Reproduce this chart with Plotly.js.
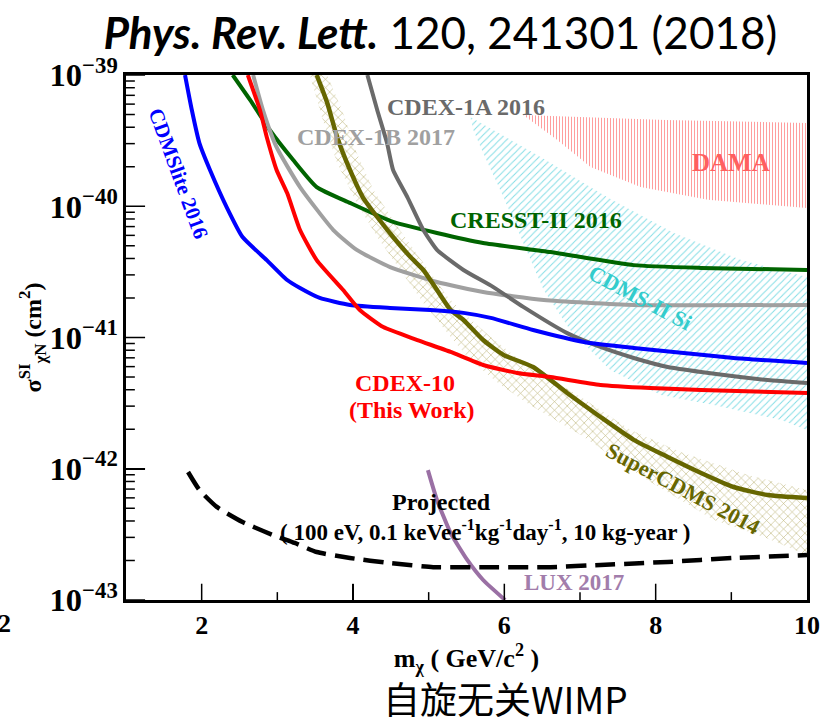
<!DOCTYPE html>
<html>
<head>
<meta charset="utf-8">
<script src="https://cdn.plot.ly/plotly-3.0.1.min.js"></script>
<style>
  html, body { margin: 0; padding: 0; background: #ffffff; }
  #chart { width: 823px; height: 722px; }
</style>
</head>
<body>
<div id="chart"></div>
<script>
// WIMP mass (GeV/c^2) and spin-independent cross section limits (cm^2)

// CDMSlite 2016
const cdmsliteMass = [1.78, 1.87, 1.97, 2.11, 2.33, 2.54, 2.86, 3.13, 3.30, 3.56, 3.96, 4.49, 5.02, 5.46, 5.82, 6.38, 7.05, 7.71, 8.37, 9.03, 10.0];
const cdmsliteSigma = [1.0e-39, 5.41e-40, 3.03e-40, 1.89e-40, 9.86e-41, 5.83e-41, 3.89e-41, 2.74e-41, 2.38e-41, 2.00e-41, 1.77e-41, 1.68e-41, 1.62e-41, 1.54e-41, 1.41e-41, 1.14e-41, 9.25e-42, 8.32e-42, 7.62e-42, 6.98e-42, 6.40e-42];

// CDEX-10 (this work)
const cdex10Mass = [2.61, 2.77, 2.86, 2.99, 3.13, 3.30, 3.52, 3.87, 4.09, 4.40, 4.85, 5.29, 5.72, 6.17, 6.61, 7.27, 7.93, 8.60, 10.0];
const cdex10Sigma = [1.0e-39, 5.41e-40, 3.37e-40, 1.89e-40, 1.26e-40, 6.59e-41, 3.89e-41, 2.30e-41, 1.62e-41, 1.20e-41, 9.57e-42, 7.76e-42, 6.17e-42, 5.37e-42, 5.00e-42, 4.35e-42, 4.12e-42, 3.98e-42, 3.78e-42];

// CRESST-II 2016
const cresstMass = [2.41, 2.64, 2.90, 3.21, 3.52, 3.96, 4.53, 5.11, 5.72, 6.61, 7.71, 8.60, 10.0];
const cresstSigma = [1.0e-39, 6.46e-40, 3.81e-40, 2.25e-40, 1.40e-40, 1.06e-40, 7.59e-41, 6.25e-41, 5.25e-41, 4.48e-41, 3.56e-41, 3.39e-41, 3.27e-41];

// CDEX-1B 2017
const cdex1bMass = [2.68, 2.81, 2.99, 3.30, 3.74, 4.05, 4.49, 5.11, 5.72, 6.52, 7.71, 10.0];
const cdex1bSigma = [1.0e-39, 5.41e-40, 2.82e-40, 1.40e-40, 6.59e-41, 4.65e-41, 3.44e-41, 2.65e-41, 2.22e-41, 1.93e-41, 1.77e-41, 1.77e-41];

// CDEX-1A 2016
const cdex1aMass = [4.19, 4.32, 4.45, 4.53, 4.72, 4.93, 5.11, 5.46, 5.85, 6.25, 6.83, 7.27, 7.71, 8.16, 8.60, 9.48, 10.0];
const cdex1aSigma = [1.0e-39, 5.41e-40, 3.03e-40, 1.89e-40, 1.17e-40, 6.59e-41, 4.65e-41, 3.27e-41, 2.43e-41, 1.71e-41, 1.08e-41, 8.47e-42, 6.98e-42, 5.96e-42, 5.46e-42, 4.74e-42, 4.50e-42];

// SuperCDMS 2014
const supercdmsMass = [3.52, 3.66, 3.79, 3.96, 4.13, 4.32, 4.53, 4.76, 4.93, 5.11, 5.29, 5.46, 5.72, 5.99, 6.38, 6.83, 7.27, 7.71, 8.16, 8.60, 9.03, 9.48, 10.0];
const supercdmsSigma = [1.0e-39, 6.12e-40, 3.37e-40, 1.89e-40, 1.17e-40, 8.28e-41, 5.83e-41, 4.10e-41, 3.27e-41, 2.30e-41, 1.62e-41, 1.36e-41, 9.57e-42, 7.36e-42, 5.96e-42, 3.78e-42, 2.48e-42, 1.66e-42, 1.23e-42, 9.29e-43, 7.26e-43, 6.31e-43, 5.98e-43];

// SuperCDMS 2014 uncertainty band edges
const supercdmsBandLowMass = [3.43, 3.60, 3.79, 4.05, 4.32, 4.62, 4.93, 5.29, 5.55, 5.95, 6.34, 7.01, 7.89, 8.77, 9.43, 10.0];
const supercdmsBandLowSigma = [1.0e-39, 4.54e-40, 2.14e-40, 1.06e-40, 5.83e-41, 3.27e-41, 1.83e-41, 1.01e-41, 6.75e-42, 4.35e-42, 3.06e-42, 1.81e-42, 8.20e-43, 4.07e-43, 3.02e-43, 2.20e-43];
const supercdmsBandHighMass = [3.66, 3.87, 4.05, 4.27, 4.62, 4.93, 5.25, 5.46, 5.82, 6.12, 6.57, 7.01, 7.67, 8.33, 9.22, 10.0];
const supercdmsBandHighSigma = [1.0e-39, 5.13e-40, 2.55e-40, 1.33e-40, 6.59e-41, 3.70e-41, 2.04e-41, 1.54e-41, 1.01e-41, 7.36e-42, 5.00e-42, 3.52e-42, 1.97e-42, 1.34e-42, 8.95e-43, 6.89e-43];

// CDMS-II Si allowed region edges
const cdmsSiUpperMass = [5.55, 6.48, 7.36, 8.24, 9.13, 10.0];
const cdmsSiUpperSigma = [4.79e-40, 2.37e-40, 1.17e-40, 6.25e-41, 3.89e-41, 2.89e-41];
const cdmsSiLowerMass = [5.55, 5.59, 5.72, 5.99, 6.31, 6.52, 6.87, 7.40, 8.07, 8.77, 9.66, 10.0];
const cdmsSiLowerSigma = [4.79e-40, 3.81e-40, 2.55e-40, 1.17e-40, 4.41e-41, 2.30e-41, 1.14e-41, 5.65e-42, 3.65e-42, 3.06e-42, 2.35e-42, 1.97e-42];

// DAMA allowed region edges
const damaUpperMass = [6.25, 8.13, 10.0];
const damaUpperSigma = [4.95e-40, 4.54e-40, 4.31e-40];
const damaLowerMass = [6.25, 6.70, 7.14, 7.80, 8.69, 10.0];
const damaLowerSigma = [4.95e-40, 3.20e-40, 1.99e-40, 1.40e-40, 1.12e-40, 9.70e-41];

// LUX 2017
const luxMass = [4.99, 5.11, 5.29, 5.51, 5.72, 6.01];
const luxSigma = [9.77e-43, 5.78e-43, 3.24e-43, 2.02e-43, 1.42e-43, 1.0e-43];

// CDEX projected sensitivity
const projectedMass = [1.82, 1.97, 2.20, 2.54, 2.94, 3.23, 3.52, 3.96, 4.49, 5.06, 5.72, 6.61, 7.27, 8.16, 9.03, 10.0];
const projectedSigma = [9.44e-43, 6.89e-43, 5.12e-43, 3.93e-43, 3.13e-43, 2.72e-43, 2.32e-43, 2.09e-43, 1.91e-43, 1.78e-43, 1.78e-43, 1.78e-43, 1.85e-43, 1.95e-43, 2.09e-43, 2.20e-43];

// axis tick positions
const massMajorTicks = [2, 4, 6, 8];
const massMinorTicks = [3, 5, 7, 9];
const sigmaDecades = [1e-43, 1e-42, 1e-41, 1e-40, 1e-39];
const sigmaMantissas = [2, 3, 4, 5, 6, 7, 8, 9];

// closed outline: one edge forward, the other edge backward
function region(upX, upY, loX, loY) {
  return {
    x: upX.concat(loX.slice().reverse()),
    y: upY.concat(loY.slice().reverse())
  };
}

const serif = 'Liberation Serif, Times New Roman, serif';

function patchTrace(r, shape, color, size, solidity) {
  return {
    type: 'scatter', mode: 'lines', x: r.x, y: r.y,
    fill: 'toself', fillcolor: 'rgba(0,0,0,0)',
    line: { width: 0, color: 'rgba(0,0,0,0)' },
    fillpattern: { shape: shape, fgcolor: color, bgcolor: 'rgba(0,0,0,0)', size: size, solidity: solidity },
    hoverinfo: 'skip'
  };
}

function curve(x, y, color, width, dash) {
  return {
    type: 'scatter', mode: 'lines', x: x, y: y,
    line: { color: color, width: width, dash: dash || 'solid', shape: 'spline', smoothing: 0.5 },
    hoverinfo: 'skip'
  };
}

const traces = [
  patchTrace(region(damaUpperMass, damaUpperSigma, damaLowerMass, damaLowerSigma), '|', 'rgba(255,110,110,0.75)', 3, 0.3),
  patchTrace(region(cdmsSiUpperMass, cdmsSiUpperSigma, cdmsSiLowerMass, cdmsSiLowerSigma), '/', 'rgba(90,210,220,0.75)', 5, 0.2),
  patchTrace(region(supercdmsBandHighMass, supercdmsBandHighSigma, supercdmsBandLowMass, supercdmsBandLowSigma), 'x', 'rgba(170,160,80,0.8)', 6, 0.18),
  curve(cresstMass, cresstSigma, '#006400', 4),
  curve(cdex1bMass, cdex1bSigma, '#a0a0a0', 4),
  curve(cdex1aMass, cdex1aSigma, '#6a6a6a', 4),
  curve(supercdmsMass, supercdmsSigma, '#666600', 4.5),
  curve(cdmsliteMass, cdmsliteSigma, '#0000ff', 4),
  curve(cdex10Mass, cdex10Sigma, '#ff0000', 4),
  curve(luxMass, luxSigma, '#9a70a4', 4),
  curve(projectedMass, projectedSigma, '#000000', 4.5, '20px,9px')
];

function label(text, x, y, color, size, angle) {
  return {
    text: text, xref: 'paper', yref: 'paper', x: x, y: y,
    xanchor: 'center', yanchor: 'middle', showarrow: false,
    textangle: angle || 0,
    font: { family: serif, size: size, color: color, weight: 'bold' }
  };
}

const annotations = [
  label('CDMSlite 2016', 0.0764, 0.813, '#0000ff', 21, 70),
  label('CDEX-1B 2017', 0.367, 0.882, '#a0a0a0', 24),
  label('CDEX-1A 2016', 0.499, 0.939, '#6a6a6a', 24),
  label('DAMA', 0.888, 0.834, '#ff6060', 25),
  label('CRESST-II 2016', 0.602, 0.724, '#006400', 24),
  label('CDMS-II Si', 0.755, 0.577, '#33cccc', 22, 28),
  label('CDEX-10', 0.410, 0.413, '#ff0000', 24),
  label('(This Work)', 0.420, 0.362, '#ff0000', 24),
  label('SuperCDMS 2014', 0.818, 0.213, '#666600', 22, 28),
  label('Projected', 0.464, 0.187, '#000000', 24),
  label('( 100 eV, 0.1 keVee<sup>-1</sup>kg<sup>-1</sup>day<sup>-1</sup>, 10 kg-year )', 0.527, 0.133, '#000000', 23),
  label('LUX 2017', 0.658, 0.034, '#a27dab', 23),
  label('2', -0.179, -0.044, '#000000', 26),
  {
    text: '自旋无关WIMP', xref: 'paper', yref: 'paper', x: 0.557, y: -0.187,
    xanchor: 'center', yanchor: 'middle', showarrow: false,
    font: { family: 'Noto Sans CJK SC, sans-serif', size: 37, color: '#000000' }
  }
];

// inward tick marks along the bottom and left edges of the frame
const tickLine = { color: '#000000', width: 1.5 };
const tickShapes = [];
massMajorTicks.forEach(function (m) {
  tickShapes.push({ type: 'line', xref: 'x', yref: 'y domain', x0: m, x1: m, y0: 0, y1: 0.031, line: tickLine });
});
massMinorTicks.forEach(function (m) {
  tickShapes.push({ type: 'line', xref: 'x', yref: 'y domain', x0: m, x1: m, y0: 0, y1: 0.015, line: tickLine });
});
sigmaDecades.forEach(function (d, i) {
  tickShapes.push({ type: 'line', xref: 'x domain', yref: 'y', x0: 0, x1: 0.028, y0: d, y1: d, line: tickLine });
  if (i < sigmaDecades.length - 1) {
    sigmaMantissas.forEach(function (k) {
      tickShapes.push({ type: 'line', xref: 'x domain', yref: 'y', x0: 0, x1: 0.013, y0: k * d, y1: k * d, line: tickLine });
    });
  }
});

const tickFont = { family: serif, size: 26, color: '#000000', weight: 'bold' };

const layout = {
  width: 823, height: 722,
  margin: { l: 126, r: 16, t: 75, b: 122 },
  paper_bgcolor: '#ffffff', plot_bgcolor: '#ffffff',
  showlegend: false,
  title: {
    text: '<b><i>Phys. Rev. Lett.</i></b> 120, 241301 (2018)',
    x: 0.535, xref: 'container', xanchor: 'center',
    y: 0.954, yref: 'container', yanchor: 'middle',
    font: { family: 'Lato, Open Sans, sans-serif', size: 44, color: '#000000' }
  },
  xaxis: {
    range: [1, 10], tickvals: massMajorTicks, ticktext: massMajorTicks.map(String).concat([]),
    ticks: 'inside', ticklen: 16, tickwidth: 1.5, tickcolor: '#000',
    showline: true, linewidth: 3, linecolor: '#000', mirror: true,
    showgrid: false, zeroline: false,
    tickfont: tickFont,
    title: { text: 'm<sub>χ</sub> ( GeV/c<sup>2</sup> )', font: { family: serif, size: 26, color: '#000', weight: 'bold' }, standoff: 8 }
  },
  yaxis: {
    type: 'log', range: [-43, -39], dtick: 1,
    exponentformat: 'power', showexponent: 'all',
    ticks: 'inside', ticklen: 19, tickwidth: 1.5, tickcolor: '#000',
    showline: true, linewidth: 3, linecolor: '#000', mirror: true,
    showgrid: false, zeroline: false,
    tickfont: tickFont,
    title: { text: 'σ<sup>SI</sup><sub>χN</sub> (cm<sup>2</sup>)', font: { family: serif, size: 24, color: '#000', weight: 'bold' }, standoff: 2 }
  },
  shapes: tickShapes,
  annotations: annotations
};

// tick labels 2..10 on the mass axis (10 sits on the right edge)
layout.xaxis.tickvals = massMajorTicks.concat([10]);
layout.xaxis.ticktext = layout.xaxis.tickvals.map(String);

Plotly.newPlot('chart', traces, layout, { staticPlot: true, displayModeBar: false });
</script>
</body>
</html>
